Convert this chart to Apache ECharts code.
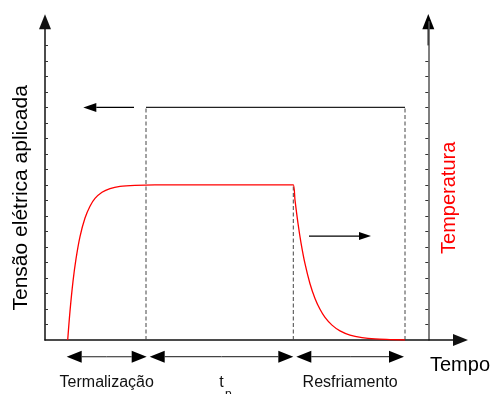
<!DOCTYPE html>
<html>
<head>
<meta charset="utf-8">
<script src="https://cdn.jsdelivr.net/npm/echarts@6/dist/echarts.min.js"></script>
<style>
  html, body { margin: 0; padding: 0; background: #fff; }
  #chart { width: 497px; height: 394px; }
</style>
</head>
<body>
<div id="chart"></div>
<script>
// tempo em unidades arbitrárias; tensão e temperatura em divisões do eixo
const tensaoTicks = [1, 2, 3, 4, 5, 6, 7, 8, 9, 10, 11, 12, 13, 14, 15, 16, 17, 18, 19];
const tempTicks = [1, 2, 3, 4, 5, 6, 7, 8, 9, 10, 11, 12, 13, 14, 15, 16, 17, 18];

// pulso de tensão aplicada
const tensaoDegrau = [[10.1, 15], [36.0, 15]];
// linhas tracejadas: [tempo, altura]
const guias = [[10.1, 15], [24.83, 10], [36.0, 15]];

// temperatura (aquecimento, patamar, resfriamento)
const temperatura = [
  [2.27, 0], [2.5, 1.86], [2.8, 3.78], [3.1, 5.23], [3.5, 6.67], [4.0, 7.87], [4.5, 8.63],
  [5.0, 9.13], [5.7, 9.53], [6.5, 9.77], [7.5, 9.91], [9.0, 9.975], [11.0, 10], [24.5, 10], [24.83, 10],
  [25.0, 9.02], [25.3, 7.52], [25.6, 6.27], [26.0, 4.92], [26.5, 3.63], [27.0, 2.68], [27.5, 1.98],
  [28.0, 1.46], [28.7, 0.96], [29.5, 0.59], [30.5, 0.32], [31.7, 0.16], [33.0, 0.07], [34.5, 0.03], [36.0, 0]
];

const fases = ['Termalização', 't', 'Resfriamento'];
const faseLimites = [2.17, 10.17, 24.83, 35.9];

const setaTensao = [[8.9, 15], [3.83, 15]];
const setaTemp = [[26.4, 6.7], [32.6, 6.7]];

const fonte = '"Liberation Sans", Arial, sans-serif';

const chart = echarts.init(document.getElementById('chart'), null, { renderer: 'canvas' });

chart.setOption({
  animation: false,
  backgroundColor: '#fff',
  grid: [
    { left: 45, right: 36.5, top: 21.7, bottom: 54 },
    { left: 45, right: 68.7, top: 21.7, bottom: 54 }
  ],
  xAxis: [{
    type: 'value', gridIndex: 0, min: 0, max: 41.55,
    axisLine: { onZero: false, lineStyle: { color: '#111', width: 1.5 }, symbol: ['none', 'triangle'], symbolSize: [12, 15] },
    axisTick: { show: false }, axisLabel: { show: false }, splitLine: { show: false }
  }, {
    type: 'value', gridIndex: 1, min: 0, max: 38.33, show: false
  }],
  yAxis: [{
    type: 'value', gridIndex: 0, min: 0, max: 20.53,
    axisLine: { show: true, onZero: false, lineStyle: { color: '#111', width: 1.5 }, symbol: ['none', 'triangle'], symbolSize: [12, 15] },
    axisTick: { show: true, inside: true, length: 3, customValues: tensaoTicks, lineStyle: { color: '#333' } },
    axisLabel: { show: false }, splitLine: { show: false }
  }, {
    type: 'value', gridIndex: 1, position: 'right', min: 0, max: 20.53,
    axisLine: { show: true, onZero: false, lineStyle: { color: '#555', width: 1.5 } },
    axisTick: { show: true, inside: true, length: 3, customValues: tempTicks, lineStyle: { color: '#333' } },
    axisLabel: { show: false }, splitLine: { show: false }
  }],
  series: [
    ...guias.map(g => ({
      type: 'line', xAxisIndex: 0, yAxisIndex: 0, symbol: 'none',
      data: [[g[0], 0], g],
      lineStyle: { color: '#444', width: 1, type: [4, 2.5] }
    })),
    {
      type: 'line', xAxisIndex: 0, yAxisIndex: 0, symbol: 'none',
      data: tensaoDegrau,
      lineStyle: { color: '#222', width: 1.3 }
    },
    {
      type: 'line', xAxisIndex: 0, yAxisIndex: 0, symbol: 'none', smooth: 0.3,
      data: temperatura,
      lineStyle: { color: '#ff0000', width: 1.3 }
    }
  ]
});

const px = p => chart.convertToPixel({ gridIndex: 0 }, p);

function seta(x1, x2, y, comp, larg, corHaste) {
  const d = x2 > x1 ? 1 : -1;
  const base = x2 - d * comp;
  return [
    { type: 'line', shape: { x1: x1, y1: y, x2: base, y2: y }, style: { stroke: corHaste, lineWidth: 1.2 } },
    { type: 'polygon', shape: { points: [[x2, y], [base, y - larg / 2], [base, y + larg / 2]] }, style: { fill: '#000' } }
  ];
}

const origem = px([0, 0]);
const eixoDir = chart.convertToPixel({ gridIndex: 1 }, [38.33, 0])[0];
const topo = px([0, 20.53])[1];
const meioY = (origem[1] + topo) / 2 + 17;
const elementos = [];

// ponta do eixo da direita (preta)
elementos.push(
  { type: 'line', shape: { x1: eixoDir, y1: topo + 7, x2: eixoDir, y2: px([0, 19])[1] }, style: { stroke: '#000', lineWidth: 1.5 } },
  { type: 'polygon', shape: { points: [[eixoDir, topo - 7.7], [eixoDir - 6, topo + 7.5], [eixoDir + 6, topo + 7.5]] }, style: { fill: '#000' } }
);

// setas de tensão e temperatura
const a = px(setaTensao[0]), b = px(setaTensao[1]);
elementos.push(...seta(a[0], b[0], a[1], 13, 9, '#000'));
const c = px(setaTemp[0]), d = px(setaTemp[1]);
elementos.push(...seta(c[0], d[0], c[1], 12, 8, '#000'));

// setas das fases
const ySeta = origem[1] + 16.7;
const yTexto = origem[1] + 42.5;
fases.forEach((nome, i) => {
  const xa = px([faseLimites[i], 0])[0] + (i > 0 ? 3 : 0);
  const xb = px([faseLimites[i + 1], 0])[0];
  const meio = (xa + xb) / 2;
  elementos.push(...seta(meio, xa, ySeta, 15, 12, '#444'));
  elementos.push(...seta(meio, xb, ySeta, 15, 12, '#444'));
  elementos.push({
    type: 'text', x: meio, y: yTexto,
    style: { text: nome, font: '16px ' + fonte, fill: '#111', align: 'center', verticalAlign: 'middle' }
  });
  if (nome === 't') {
    elementos.push({
      type: 'text', x: meio + 3.5, y: yTexto + 12.5,
      style: { text: 'p', font: '12px ' + fonte, fill: '#111', align: 'left', verticalAlign: 'middle' }
    });
  }
});

elementos.push({
  type: 'text', x: eixoDir + 1.7, y: origem[1] + 25,
  style: { text: 'Tempo', font: '20px ' + fonte, fill: '#000', align: 'left', verticalAlign: 'middle' }
});
elementos.push({
  type: 'text', x: origem[0] - 23.5, y: meioY, rotation: Math.PI / 2,
  style: { text: 'Tensão elétrica aplicada', font: '21px ' + fonte, fill: '#000', align: 'center', verticalAlign: 'middle' }
});
elementos.push({
  type: 'text', x: eixoDir + 20.7, y: meioY, rotation: Math.PI / 2,
  style: { text: 'Temperatura', font: '20px ' + fonte, fill: '#ff0000', align: 'center', verticalAlign: 'middle' }
});

chart.setOption({ graphic: elementos });

window.addEventListener('resize', function () {
  chart.resize();
});
</script>
</body>
</html>
